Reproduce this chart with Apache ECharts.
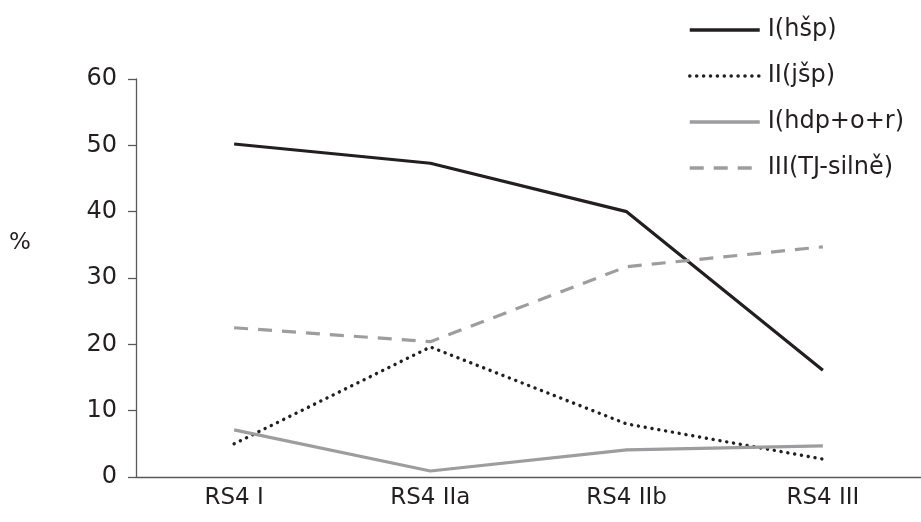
<!DOCTYPE html>
<html><head><meta charset="utf-8">
<script src="https://cdn.jsdelivr.net/npm/echarts@6/dist/echarts.min.js"></script>
<style>html,body{margin:0;padding:0;background:#fff}#c{width:921px;height:522px}</style>
</head><body><div id="c"></div>
<script>
const categories = ['RS4 I', 'RS4 IIa', 'RS4 IIb', 'RS4 III'];
const seriesNames = ['I(hšp)', 'II(jšp)', 'I(hdp+o+r)', 'III(TJ-silně)'];
const hsp = [50.2, 47.3, 40.0, 16.1];
const jsp = [5.0, 19.6, 8.0, 2.7];
const hdp = [7.1, 0.9, 4.1, 4.7];
const tj = [22.5, 20.4, 31.7, 34.7];
const yTicks = [0, 10, 20, 30, 40, 50, 60];
const yName = '%';

const font = '"DejaVu Sans", "Noto Sans", sans-serif';
const txt = '#231f20';
const chart = echarts.init(document.getElementById('c'));
chart.setOption({
  animation: false,
  grid: { left: 136, top: 79, width: 795, height: 398 },
  legend: {
    orient: 'vertical', left: 688, top: 18, padding: 0, itemWidth: 70, itemHeight: 12, itemGap: 22,
    itemStyle: { opacity: 0 },
    lineStyle: { width: 3.5 },
    textStyle: { fontFamily: font, fontSize: 24, lineHeight: 24, color: txt, padding: [0, 0, 0, 3] },
    data: seriesNames
  },
  graphic: [{ type: 'text', left: 9, top: 232, style: { text: yName, font: '23px ' + font, fill: txt } }],
  xAxis: {
    type: 'category', data: categories, boundaryGap: true,
    axisLine: { lineStyle: { color: '#58595b', width: 1.3 } },
    axisTick: { length: 8, lineStyle: { color: '#58595b', width: 1.3 } },
    axisLabel: { fontFamily: font, fontSize: 23, color: txt, margin: 10 }
  },
  yAxis: {
    type: 'value', min: yTicks[0], max: yTicks[yTicks.length - 1], interval: 10,
    splitLine: { show: false },
    axisLine: { show: true, lineStyle: { color: '#58595b', width: 1.3 } },
    axisTick: { show: true, length: 8, lineStyle: { color: '#58595b', width: 1.3 } },
    axisLabel: { fontFamily: font, fontSize: 24, color: txt, margin: 19 }
  },
  series: [
    { name: seriesNames[0], type: 'line', data: hsp, symbol: 'none', lineStyle: { color: '#231f20', width: 3.2 }, itemStyle: { color: '#231f20' } },
    { name: seriesNames[1], type: 'line', data: jsp, symbol: 'none', lineStyle: { color: '#231f20', width: 3.4, type: [0.1, 6.8], cap: 'round' }, itemStyle: { color: '#231f20' } },
    { name: seriesNames[2], type: 'line', data: hdp, symbol: 'none', lineStyle: { color: '#9d9d9f', width: 3.2 }, itemStyle: { color: '#9d9d9f' } },
    { name: seriesNames[3], type: 'line', data: tj, symbol: 'none', lineStyle: { color: '#9d9d9f', width: 3.2, type: [14, 10] }, itemStyle: { color: '#9d9d9f' } }
  ]
});
</script></body></html>
